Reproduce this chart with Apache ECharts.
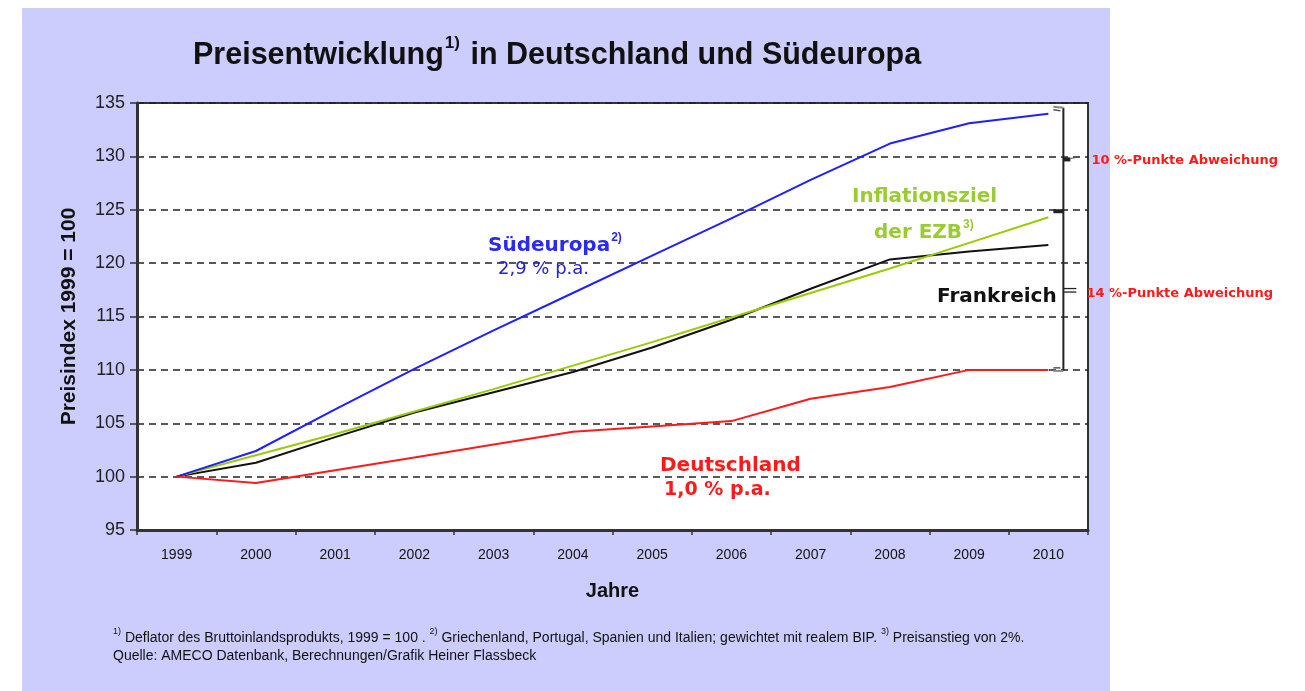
<!DOCTYPE html>
<html><head><meta charset="utf-8">
<script src="https://cdn.jsdelivr.net/npm/echarts@6/dist/echarts.min.js"></script>
<style>html,body{margin:0;padding:0;background:#fff}#c{width:1305px;height:691px}</style>
</head><body><div id="c"></div>
<script>
const years = ['1999','2000','2001','2002','2003','2004','2005','2006','2007','2008','2009','2010'];
const suedeuropa  = [100, 102.4, 106.3, 110.1, 113.7, 117.2, 120.7, 124.2, 127.8, 131.2, 133.1, 134.0];
const frankreich  = [100, 101.3, 103.7, 106.0, 107.9, 109.8, 112.1, 114.7, 117.6, 120.35, 121.1, 121.7];
const ezbZiel     = [100, 102.0, 104.0, 106.1, 108.2, 110.4, 112.6, 114.9, 117.2, 119.5, 121.9, 124.3];
const deutschland = [100, 99.4, 100.6, 101.8, 103.0, 104.2, 104.7, 105.2, 107.3, 108.4, 110.0, 110.0];
const yMin = 95, yMax = 135, yStep = 5;
const bracketLevels = [134.0, 124.3, 110.0];
const bracketLabels = ['10 %-Punkte Abweichung', '14 %-Punkte Abweichung'];

const chart = echarts.init(document.getElementById('c'), null, {renderer: 'canvas'});

function renderBracket(params, api) {
  const t = api.coord([api.value(0), api.value(1)]);
  const m = api.coord([api.value(0), api.value(2)]);
  const b = api.coord([api.value(0), api.value(3)]);
  const x = t[0] + 15;
  const ty = t[1] - 6, my = m[1] - 6, by = b[1];
  const mid1 = (ty + my) / 2, mid2 = (my + by) / 2;
  const dark = '#222', grey = '#888';
  const lab = {fill: '#ff1a1a', font: 'bold 13px "DejaVu Sans", Verdana, sans-serif', textVerticalAlign: 'middle', textAlign: 'left'};
  return {type: 'group', children: [
    {type: 'line', shape: {x1: x, y1: ty, x2: x, y2: by + 1}, style: {stroke: dark, lineWidth: 2}},
    {type: 'polyline', shape: {points: [[x - 10, ty - 1], [x, ty]]}, style: {stroke: grey, lineWidth: 2, fill: null}},
    {type: 'polyline', shape: {points: [[x - 10, ty + 2], [x - 3, ty + 3]]}, style: {stroke: '#555', lineWidth: 1.5, fill: null}},
    {type: 'polyline', shape: {points: [[x - 10, by + 1], [x, by + 1]]}, style: {stroke: grey, lineWidth: 2, fill: null}},
    {type: 'polyline', shape: {points: [[x - 10, by - 2], [x - 3, by - 2]]}, style: {stroke: '#555', lineWidth: 1.5, fill: null}},
    {type: 'rect', shape: {x: x - 10, y: my - 2, width: 10, height: 4}, style: {fill: dark}},
    {type: 'rect', shape: {x: x, y: mid1 - 2, width: 7, height: 4}, style: {fill: dark}},
    {type: 'line', shape: {x1: x + 7, y1: mid1 - 1, x2: x + 13, y2: mid1 - 2}, style: {stroke: '#555', lineWidth: 1}},
    {type: 'line', shape: {x1: x, y1: mid2 - 2, x2: x + 13, y2: mid2 - 2}, style: {stroke: dark, lineWidth: 1.3}},
    {type: 'line', shape: {x1: x, y1: mid2 + 1.5, x2: x + 13, y2: mid2 + 1.5}, style: {stroke: dark, lineWidth: 1.3}},
    {type: 'text', style: Object.assign({text: bracketLabels[0], x: x + 28, y: mid1 + 1}, lab)},
    {type: 'text', style: Object.assign({text: bracketLabels[1], x: x + 23, y: mid2 + 3}, lab)}
  ]};
}

const annoFont = '"DejaVu Sans", Verdana, sans-serif';
const supRich = (color) => ({
  m: {fontFamily: annoFont, fontWeight: 'bold', fontSize: 20, fill: color, lineHeight: 24, verticalAlign: 'bottom'},
  s: {fontFamily: '"Liberation Sans", Arial', fontWeight: 'bold', fontSize: 12, fill: color, lineHeight: 24, verticalAlign: 'top', padding: [0, 0, 0, 1]}
});

const option = {
  animation: false,
  backgroundColor: '#ffffff',
  graphic: [
    {type: 'rect', left: 22, top: 8, z: -100, shape: {width: 1088, height: 683}, style: {fill: '#cdcdfd'}},
    {type: 'text', left: 193, top: 35, z: 50, style: {
      text: '{m|Preisentwicklung}{s|1)}{m| in Deutschland und Südeuropa}',
      rich: {
        m: {fontFamily: '"Liberation Sans", Arial', fontWeight: 'bold', fontSize: 30.5, fill: '#111', lineHeight: 36, verticalAlign: 'bottom'},
        s: {fontFamily: '"Liberation Sans", Arial', fontWeight: 'bold', fontSize: 17, fill: '#111', lineHeight: 36, verticalAlign: 'top', padding: [0, 2, 0, 1]}
      }}},
    {type: 'text', left: 488, top: 232, z: 50, style: {text: '{m|Südeuropa}{s|2)}', rich: supRich('#2a2af0')}},
    {type: 'text', left: 498, top: 260, z: 50, style: {text: '2,9 % p.a.', fill: '#2323c8', font: 'normal 18px ' + annoFont}},
    {type: 'text', left: 852, top: 187, z: 50, style: {text: 'Inflationsziel', fill: '#99cc33', font: 'bold 20px ' + annoFont}},
    {type: 'text', left: 874, top: 219, z: 50, style: {text: '{m|der EZB}{s|3)}', rich: supRich('#99cc33')}},
    {type: 'text', left: 937, top: 287, z: 50, style: {text: 'Frankreich', fill: '#111', font: 'bold 20px ' + annoFont}},
    {type: 'text', left: 660, top: 456, z: 50, style: {text: 'Deutschland', fill: '#ff1a1a', font: 'bold 20px ' + annoFont}},
    {type: 'text', left: 664, top: 481, z: 50, style: {text: '1,0 % p.a.', fill: '#ff1a1a', font: 'bold 19px ' + annoFont}},
    {type: 'text', left: 113, top: 627, z: 50, style: {
      text: '{s|1)}{m| Deflator des Bruttoinlandsprodukts, 1999 = 100 . }{s|2)}{m| Griechenland, Portugal, Spanien und Italien; gewichtet mit realem BIP. }{s|3)}{m| Preisanstieg von 2%.}\n{m|Quelle: AMECO Datenbank, Berechnungen/Grafik Heiner Flassbeck}',
      rich: {
        m: {fontFamily: '"Liberation Sans", Arial', fontSize: 14, fill: '#111', lineHeight: 18, verticalAlign: 'bottom'},
        s: {fontFamily: '"Liberation Sans", Arial', fontSize: 9, fill: '#111', lineHeight: 18, verticalAlign: 'top'}
      }}}
  ],
  grid: {left: 137, right: 217, top: 103, bottom: 161, show: true, backgroundColor: '#ffffff', borderColor: '#333', borderWidth: 2},
  xAxis: {
    type: 'category', data: years, boundaryGap: true,
    axisLine: {lineStyle: {color: '#333', width: 3}},
    axisTick: {show: true, alignWithLabel: false, length: 5, lineStyle: {color: '#333', width: 1.5}},
    axisLabel: {fontFamily: '"Liberation Sans", Arial', fontSize: 14, color: '#111', margin: 18},
    name: 'Jahre', nameLocation: 'middle', nameGap: 51,
    nameTextStyle: {fontFamily: '"Liberation Sans", Arial', fontWeight: 'bold', fontSize: 20, color: '#111'}
  },
  yAxis: {
    type: 'value', min: yMin, max: yMax, interval: yStep,
    axisLine: {show: true, lineStyle: {color: '#333', width: 3}},
    axisTick: {show: true, inside: false, length: 7, lineStyle: {color: '#333', width: 1.5}},
    axisLabel: {fontFamily: '"Liberation Sans", Arial', fontSize: 18, color: '#222', margin: 12},
    splitLine: {show: true, lineStyle: {color: '#222', type: [7, 5], width: 1.5}},
    name: 'Preisindex 1999 = 100', nameLocation: 'middle', nameGap: 57, nameRotate: 90,
    nameTextStyle: {fontFamily: '"Liberation Sans", Arial', fontWeight: 'bold', fontSize: 21, color: '#111'}
  },
  series: [
    {name: 'Südeuropa', type: 'line', data: suedeuropa, symbol: 'none', lineStyle: {color: '#1f1fff', width: 2}, z: 5},
    {name: 'Inflationsziel der EZB', type: 'line', data: ezbZiel, symbol: 'none', lineStyle: {color: '#99cc00', width: 2}, z: 4},
    {name: 'Frankreich', type: 'line', data: frankreich, symbol: 'none', lineStyle: {color: '#111111', width: 2}, z: 3},
    {name: 'Deutschland', type: 'line', data: deutschland, symbol: 'none', lineStyle: {color: '#ff1a1a', width: 2}, z: 6},
    {name: 'Abweichung', type: 'custom', renderItem: renderBracket, clip: false, z: 10, silent: true,
      data: [[years.length - 1, bracketLevels[0], bracketLevels[1], bracketLevels[2]]]}
  ]
};
chart.setOption(option);
</script></body></html>
